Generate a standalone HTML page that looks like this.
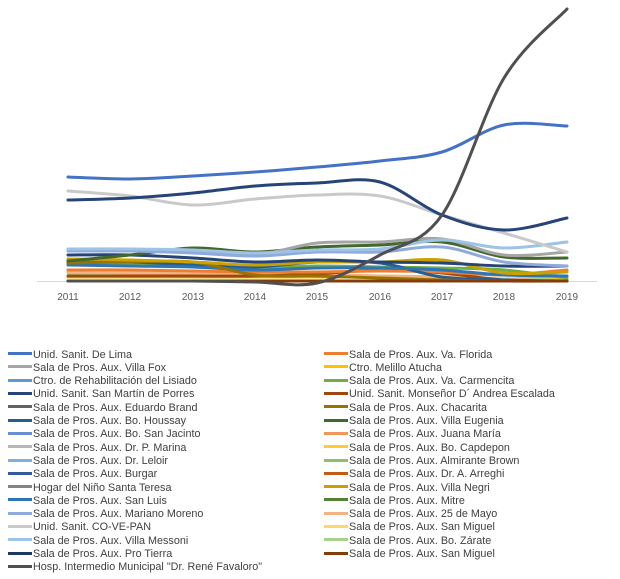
<!DOCTYPE html>
<html><head><meta charset="utf-8"><style>
body{margin:0;background:#fff;width:620px;height:579px;overflow:hidden;font-family:"Liberation Sans",sans-serif}
.lg{position:absolute;font-size:10.8px;color:#404040;white-space:nowrap}
.lg i{display:inline-block;width:24px;height:3px;vertical-align:middle;margin-right:1px;position:relative;top:-1px}
</style></head><body>
<svg id="s" width="620" height="330" style="position:absolute;left:0;top:0">
<line x1="37" y1="281.5" x2="597" y2="281.5" stroke="#d9d9d9" stroke-width="1"/>
<g font-size="10" fill="#595959" text-anchor="middle" font-family="Liberation Sans, sans-serif">
<text x="68" y="300">2011</text><text x="130" y="300">2012</text><text x="193" y="300">2013</text><text x="255" y="300">2014</text><text x="317" y="300">2015</text><text x="380" y="300">2016</text><text x="442" y="300">2017</text><text x="504" y="300">2018</text><text x="567" y="300">2019</text>
</g>
<g id="g" fill="none" stroke-width="3" stroke-linecap="round"></g>
</svg>
<div id="leg"></div>
<script>
var S=[
["#FFC000",[277,277,277,277,277,277,277,279,279]],
["#A9D18E",[273,273,274,274,275,276,277,279,276]],
["#F4B183",[272,273,274,274,274,276,277,280,271]],
["#9E480E",[276,276,276,276,274,270,273,280,281]],
["#ED7D31",[270,270,271,272,272,271,272,275,270]],
["#70AD47",[264,264,266,268,266,267,268,270,278]],
["#255E91",[262,262,265,267,262,263,277,280,281]],
["#2E75B6",[265,266,267,270,268,268,270,275,276]],
["#997300",[263,262,262,275,276,278,280,281,281]],
["#C9A100",[259,260,262,265,262,262,260,273,272]],
["#264478",[255,255,258,262,260,262,263,266,266]],
["#43682B",[261,255,248,252,247,245,242,257,258]],
["#A5A5A5",[251,251,251,255,243,242,239,255,252]],
["#8FAADC",[251,251,253,256,252,252,247,262,266]],
["#9DC3E6",[249,249,250,253,250,249,240,248,242]],
["#843C0C",[281,281,281,281,281,281,281,281,281]],
["#C9C9C9",[191,196,205,199,195,196,215,233,252]],
["#264478",[200,198,193,186,183,182,215,230,218]],
["#4472C4",[177,179,176,172,167,161,152,125,126]],
["#505050",[281,281,281,282,283,255,215,78,9]]
];
var X=[68,130,193,255,317,380,442,504,567],g=document.getElementById('g'),h='';
S.forEach(function(s){var y=s[1],d='M'+X[0]+','+y[0];
for(var i=0;i<8;i++){var p0=[X[Math.max(i-1,0)],y[Math.max(i-1,0)]],p1=[X[i],y[i]],p2=[X[i+1],y[i+1]],p3=[X[Math.min(i+2,8)],y[Math.min(i+2,8)]];
d+=' C'+(p1[0]+(p2[0]-p0[0])/6)+','+(p1[1]+(p2[1]-p0[1])/6)+' '+(p2[0]-(p3[0]-p1[0])/6)+','+(p2[1]-(p3[1]-p1[1])/6)+' '+p2[0]+','+p2[1];}
h+='<path d="'+d+'" stroke="'+s[0]+'"/>';});
g.innerHTML=h;
var L=[["#4472C4","Unid. Sanit. De Lima"],["#A5A5A5","Sala de Pros. Aux. Villa Fox"],["#5B9BD5","Ctro. de Rehabilitación del Lisiado"],["#264478","Unid. Sanit. San Martín de Porres"],["#636363","Sala de Pros. Aux. Eduardo Brand"],["#255E91","Sala de Pros. Aux. Bo. Houssay"],["#698ED0","Sala de Pros. Aux. Bo. San Jacinto"],["#B7B7B7","Sala de Pros. Aux. Dr. P. Marina"],["#7CAFDD","Sala de Pros. Aux. Dr. Leloir"],["#335AA1","Sala de Pros. Aux. Burgar"],["#848484","Hogar del Niño Santa Teresa"],["#2E75B6","Sala de Pros. Aux. San Luis"],["#8FAADC","Sala de Pros. Aux. Mariano Moreno"],["#C9C9C9","Unid. Sanit. CO-VE-PAN"],["#9DC3E6","Sala de Pros. Aux. Villa Messoni"],["#1F3864","Sala de Pros. Aux. Pro Tierra"],["#505050","Hosp. Intermedio Municipal \"Dr. René Favaloro\""]];
var R=[["#ED7D31","Sala de Pros. Aux. Va. Florida"],["#FFC000","Ctro. Melillo Atucha"],["#70AD47","Sala de Pros. Aux. Va. Carmencita"],["#9E480E","Unid. Sanit. Monseñor D´ Andrea Escalada"],["#997300","Sala de Pros. Aux. Chacarita"],["#43682B","Sala de Pros. Aux. Villa Eugenia"],["#F1975A","Sala de Pros. Aux. Juana María"],["#FFCD33","Sala de Pros. Aux. Bo. Capdepon"],["#8CC168","Sala de Pros. Aux. Almirante Brown"],["#C55A11","Sala de Pros. Aux. Dr. A. Arreghi"],["#C9A100","Sala de Pros. Aux. Villa Negri"],["#548235","Sala de Pros. Aux. Mitre"],["#F4B183","Sala de Pros. Aux. 25 de Mayo"],["#FFD966","Sala de Pros. Aux. San Miguel"],["#A9D18E","Sala de Pros. Aux. Bo. Zárate"],["#843C0C","Sala de Pros. Aux. San Miguel"]];
var o='';
L.forEach(function(e,i){o+='<div class="lg" style="left:8px;top:'+(348.5+i*13.3)+'px"><i style="background:'+e[0]+'"></i>'+e[1].replace(/"/g,'&quot;')+'</div>';});
R.forEach(function(e,i){o+='<div class="lg" style="left:324px;top:'+(348.5+i*13.3)+'px"><i style="background:'+e[0]+'"></i>'+e[1]+'</div>';});
document.getElementById('leg').innerHTML=o;
</script>
</body></html>
